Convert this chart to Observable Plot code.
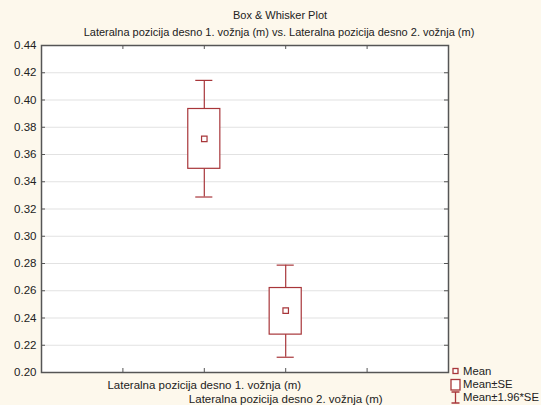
<!DOCTYPE html>
<html>
<head>
<meta charset="utf-8">
<script src="https://cdn.jsdelivr.net/npm/d3@7"></script>
<script src="https://cdn.jsdelivr.net/npm/@observablehq/plot@0.6"></script>
<style>
  html, body { margin: 0; padding: 0; background: #fdf8ec; overflow: hidden; }
  #wrap { position: relative; width: 541px; height: 405px; font-family: "Liberation Sans", Arial, sans-serif; color: #222; }
  .t { position: absolute; white-space: nowrap; font-size: 11px; transform: translate(-50%, -50%); }
  .leg { position: absolute; left: 450px; font-size: 11.3px; display: flex; align-items: center; white-space: nowrap; }
  .leg svg { margin-right: 2px; }
</style>
</head>
<body>
<div id="wrap"></div>
<script>
const title = "Box & Whisker Plot";
const subtitle = "Lateralna pozicija desno 1. vožnja (m) vs. Lateralna pozicija desno 2. vožnja (m)";
const categories = ["Lateralna pozicija desno 1. vožnja (m)", "Lateralna pozicija desno 2. vožnja (m)"];
const positions = [2, 3];
const means = [0.3714, 0.2454];
const seLow = [0.3495, 0.2278];
const seHigh = [0.3934, 0.2620];
const ciLow = [0.3288, 0.2112];
const ciHigh = [0.4144, 0.2788];
const yTicks = [0.20, 0.22, 0.24, 0.26, 0.28, 0.30, 0.32, 0.34, 0.36, 0.38, 0.40, 0.42, 0.44];
const xTicks = [1, 2, 3, 4];
const legendLabels = ["Mean", "Mean±SE", "Mean±1.96*SE"];

const red = "#a8363a";
const W = 541, H = 405, mL = 41, mR = 93, mT = 45, mB = 33;
const pw = W - mL - mR, ph = H - mT - mB;
const boxHalf = 0.197, capHalf = 0.105;

const data = categories.map((c, i) => ({
  cat: c, x: positions[i], mean: means[i],
  lo: seLow[i], hi: seHigh[i], clo: ciLow[i], chi: ciHigh[i], row: i
}));

const chart = Plot.plot({
  width: W, height: H,
  marginLeft: mL, marginRight: mR, marginTop: mT, marginBottom: mB,
  style: { background: "transparent", fontFamily: "Liberation Sans, Arial, sans-serif", fontSize: "11px", color: "#222" },
  x: { domain: [0, 5], axis: null },
  y: { domain: [0.20, 0.44], ticks: yTicks, tickFormat: d3.format(".2f") },
  marks: [
    Plot.frame({ fill: "white" }),
    Plot.ruleY(yTicks.slice(1, -1), { stroke: "#e2e2e2", strokeWidth: 1.2 }),
    Plot.axisY({ ticks: yTicks, tickSize: 0, tickPadding: 5, tickFormat: d3.format(".2f"), fontSize: 11.5, fill: "#222" }),
    Plot.tickY(yTicks, { y: d => d, insetRight: pw - 4, stroke: "#555" }),
    Plot.tickY(yTicks, { y: d => d, insetLeft: pw - 4, stroke: "#555" }),
    Plot.tickX(xTicks, { x: d => d, insetBottom: ph - 4, stroke: "#555" }),
    Plot.tickX(xTicks, { x: d => d, insetTop: ph - 4, stroke: "#555" }),
    Plot.ruleX(data, { x: "x", y1: "hi", y2: "chi", stroke: red, strokeWidth: 1.2 }),
    Plot.ruleX(data, { x: "x", y1: "lo", y2: "clo", stroke: red, strokeWidth: 1.2 }),
    Plot.ruleY(data, { y: "chi", x1: d => d.x - capHalf, x2: d => d.x + capHalf, stroke: red, strokeWidth: 1.2 }),
    Plot.ruleY(data, { y: "clo", x1: d => d.x - capHalf, x2: d => d.x + capHalf, stroke: red, strokeWidth: 1.2 }),
    Plot.rect(data, { x1: d => d.x - boxHalf, x2: d => d.x + boxHalf, y1: "lo", y2: "hi", fill: "white", stroke: red, strokeWidth: 1.2 }),
    Plot.dot(data, { x: "x", y: "mean", symbol: "square", r: 3.1, fill: "white", stroke: red, strokeWidth: 1.2 }),
    Plot.text(data.filter(d => d.row === 0), { x: "x", text: "cat", frameAnchor: "bottom", dy: 13, fontSize: 11.5, fill: "#222", lineAnchor: "middle" }),
    Plot.text(data.filter(d => d.row === 1), { x: "x", text: "cat", frameAnchor: "bottom", dy: 27, fontSize: 11.5, fill: "#222", lineAnchor: "middle" }),
    Plot.frame({ stroke: "#555", strokeWidth: 1.5 })
  ]
});

const wrap = document.getElementById("wrap");
wrap.appendChild(chart);

function addText(txt, x, y) {
  const d = document.createElement("div");
  d.className = "t"; d.textContent = txt;
  d.style.left = x + "px"; d.style.top = y + "px";
  wrap.appendChild(d);
}
addText(title, 280, 14.5);
addText(subtitle, 279, 31.5);

const symbols = [
  `<svg width="11" height="12"><rect x="3" y="3.5" width="5" height="5" fill="white" stroke="${red}" stroke-width="1.3"/></svg>`,
  `<svg width="11" height="13"><rect x="1" y="1.5" width="9" height="10.5" fill="white" stroke="${red}" stroke-width="1.3"/></svg>`,
  `<svg width="11" height="13"><path d="M1.5 1H9.5M5.5 1V12M1.5 12H9.5" stroke="${red}" stroke-width="1.3" fill="none"/></svg>`
];
const rowsY = [371, 384, 397];
legendLabels.forEach((lab, i) => {
  const d = document.createElement("div");
  d.className = "leg";
  d.style.top = (rowsY[i] - 7) + "px";
  d.style.height = "14px";
  d.innerHTML = symbols[i] + `<span>${lab}</span>`;
  wrap.appendChild(d);
});
</script>
</body>
</html>
